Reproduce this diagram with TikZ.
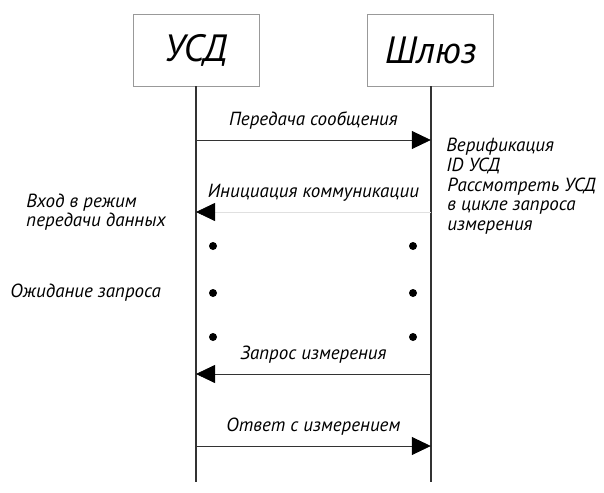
\documentclass[tikz,border=0pt]{standalone}
\usepackage{fontspec}
\setmainfont{PT Sans}
\usepackage{tikz}
\usetikzlibrary{arrows.meta}
\usetikzlibrary{positioning}
\tikzset{
    actor/.style={
           rectangle,
           draw=black!40, thin,
           minimum width=63pt,
           minimum height=36pt,
           inner sep=2pt,
           font=\itshape\fontsize{19}{21}\selectfont,
           },
    msg/.style={
           font=\itshape\fontsize{9.5}{11}\selectfont,
           },
    note/.style={
           align=left,
           inner sep=0pt,
           font=\itshape\fontsize{9.5}{9.6}\selectfont,
           },
    life/.style={draw=black!80, line width=0.7pt},
    faint/.style={draw=black!12},
    dot/.style={circle, fill=black, inner sep=0pt, minimum size=4pt},
}

\begin{document}
\begin{tikzpicture}[x=0.5pt,y=-0.5pt,->,
  >={Triangle[length=9.5pt,width=9pt,color=black]}]
  \useasboundingbox (0,0) rectangle (604,492);
  \node[actor] (USD) at (196,50) {УСД};
  \node[actor,
 right=54pt of USD] (GW) {Шлюз};
  \coordinate (bottom) at (0,482);
  \draw[life,-] (USD.south) -- (USD.south |- bottom);
  \draw[life,-] (GW.south) -- (GW.south |- bottom);
  \foreach \n/\y in {a/140,b/212,c/374,d/446}{
    \coordinate (Mark) at (0,\y);
    \coordinate (U\n) at (USD.south |- Mark);
    \coordinate (G\n) at (GW.south |- Mark);
  }
\path 
  (Ua) edge[draw=black!80]
    node[msg,above=2pt] {Передача сообщения}
    (Ga)
  (Gb) edge[faint]
    node[msg,above=2pt,text=black] {Инициация коммуникации}
    (Ub)
  (Gc) edge[draw=black!80]
    node[msg,above=2pt] {Запрос измерения}
    (Uc)
  (Ud) edge[draw=black!80]
    node[msg,above=2pt] {Ответ с измерением}
    (Gd)
 ;
  \foreach \y in {246,293,337}{
    \node[dot] (L\y) at (213,\y) {};
    \node[dot] (R\y) at (413,\y) {};
  }
  \node[note, anchor=west] (enter) at (26,212)
    {Вход в режим\\передачи данных};
  \node[note, anchor=west] (wait) at (10,293) {Ожидание запроса};
  \node[note, anchor=west] (verify) at (446,156)
    {Верификация\\ID УСД};
  \node[note, anchor=west] (consider) at (447,206)
    {Рассмотреть УСД\\в цикле запроса\\измерения};
\end{tikzpicture}
\end{document}
